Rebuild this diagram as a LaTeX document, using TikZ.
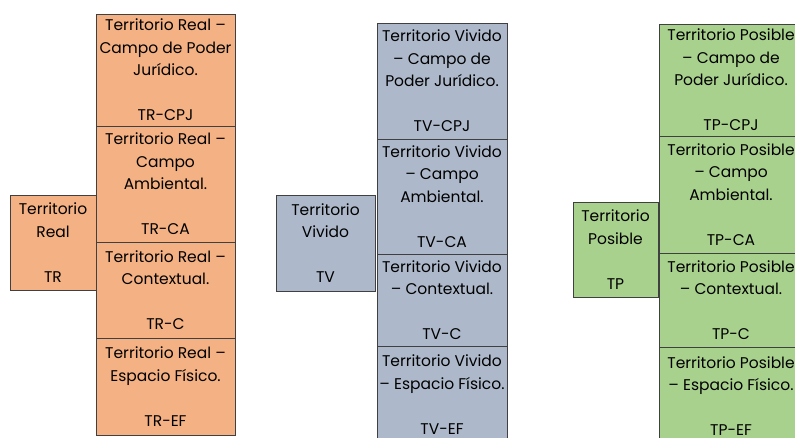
\documentclass[tikz,border=0pt]{standalone}
\usepackage{fontspec}
\setmainfont{Poppins}
\usetikzlibrary{positioning}
\definecolor{realfill}{HTML}{F4B183}
\definecolor{vividofill}{HTML}{ADB9CA}
\definecolor{posiblefill}{HTML}{A9D18E}

\begin{document}
\begin{tikzpicture}[x=1pt,y=-1pt,
rec/.style={
    rectangle,
    draw=black!75,
    align=center,
    anchor=north west,
    inner sep = 0pt,
    outer sep = 0pt,
    line width=0.8pt,
    font=\fontsize{15.5}{22.5}\selectfont
    }
]
\clip (0,0) rectangle (795,437);
% Territorio Real
\node(tr) at (10,195) [rec,minimum width=86pt,minimum height=95pt,fill=realfill] {Territorio\\ Real\\ \mbox{}\\ TR};
\node(trcpj) at (96,14) [rec,minimum width=139pt,minimum height=112pt,fill=realfill] {Territorio Real –\\ Campo de Poder\\ Jurídico.\\ \mbox{}\\ TR-CPJ};
\node(trca) [rec,below=0pt of trcpj,minimum width=139pt,minimum height=116pt,fill=realfill] {Territorio Real –\\ Campo\\ Ambiental.\\ \mbox{}\\ TR-CA};
\node(trc) [rec,below=0pt of trca,minimum width=139pt,minimum height=96pt,fill=realfill] {Territorio Real –\\ Contextual.\\ \mbox{}\\ TR-C};
\node(tref) [rec,below=0pt of trc,minimum width=139pt,minimum height=97pt,fill=realfill] {Territorio Real –\\ Espacio Físico.\\ \mbox{}\\ TR-EF};
% Territorio Vivido
\node(tv) at (276,195) [rec,minimum width=99pt,minimum height=96pt,fill=vividofill] {Territorio\\ Vivido\\ \mbox{}\\ TV};
\node(tvcpj) at (377,23) [rec,minimum width=130pt,minimum height=116pt,fill=vividofill] {Territorio Vivido\\ – Campo de\\ Poder Jurídico.\\ \mbox{}\\ TV-CPJ};
\node(tvca) [rec,below=0pt of tvcpj,minimum width=130pt,minimum height=115pt,fill=vividofill] {Territorio Vivido\\ – Campo\\ Ambiental.\\ \mbox{}\\ TV-CA};
\node(tvc) [rec,below=0pt of tvca,minimum width=130pt,minimum height=92pt,fill=vividofill] {Territorio Vivido\\ – Contextual.\\ \mbox{}\\ TV-C};
\node(tvef) [rec,below=0pt of tvc,minimum width=130pt,minimum height=97pt,fill=vividofill] {Territorio Vivido\\ – Espacio Físico.\\ \mbox{}\\ TV-EF};
% Territorio Posible
\node(tp) at (573,202) [rec,minimum width=85pt,minimum height=95pt,fill=posiblefill] {Territorio\\ Posible\\ \mbox{}\\ TP};
\node(tpcpj) at (659,24) [rec,minimum width=144pt,minimum height=112pt,fill=posiblefill] {Territorio Posible\\ – Campo de\\ Poder Jurídico.\\ \mbox{}\\ TP-CPJ};
\node(tpca) [rec,below=0pt of tpcpj,minimum width=144pt,minimum height=117pt,fill=posiblefill] {Territorio Posible\\ – Campo\\ Ambiental.\\ \mbox{}\\ TP-CA};
\node(tpc) [rec,below=0pt of tpca,minimum width=144pt,minimum height=94pt,fill=posiblefill] {Territorio Posible\\ – Contextual.\\ \mbox{}\\ TP-C};
\node(tpef) [rec,below=0pt of tpc,minimum width=144pt,minimum height=98pt,fill=posiblefill] {Territorio Posible\\ – Espacio Físico.\\ \mbox{}\\ TP-EF};
\end{tikzpicture}
\end{document}
